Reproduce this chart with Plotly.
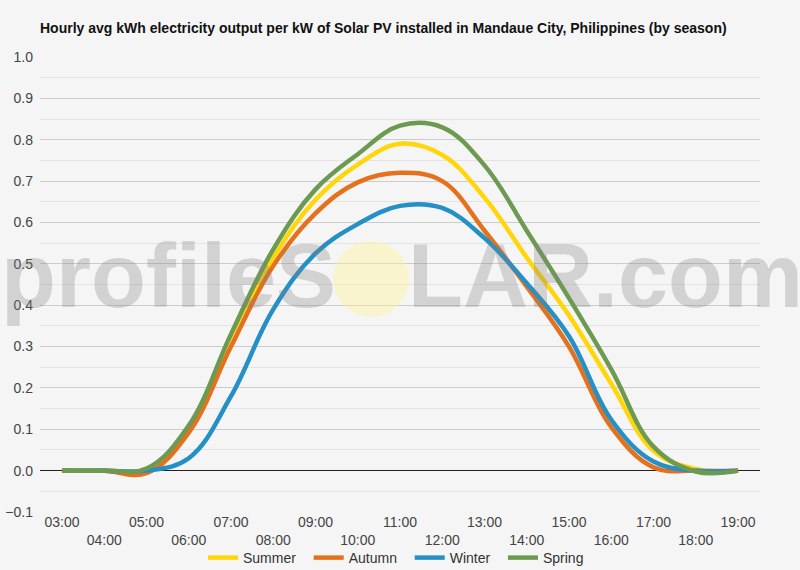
import plotly.graph_objects as go

hours = ["03:00", "04:00", "05:00", "06:00", "07:00", "08:00", "09:00", "10:00", "11:00",
         "12:00", "13:00", "14:00", "15:00", "16:00", "17:00", "18:00", "19:00"]

summer = [0, 0, 0.003, 0.105, 0.325, 0.515, 0.655, 0.74, 0.79, 0.763, 0.66, 0.515, 0.375, 0.21, 0.048, 0.004, 0]
autumn = [0, 0, -0.006, 0.092, 0.30, 0.495, 0.622, 0.697, 0.72, 0.70, 0.58, 0.445, 0.30, 0.105, 0.008, 0, 0]
winter = [0, 0, 0, 0.03, 0.18, 0.39, 0.525, 0.596, 0.64, 0.635, 0.562, 0.453, 0.325, 0.123, 0.022, 0, 0]
spring = [0, 0, 0.005, 0.109, 0.33, 0.535, 0.68, 0.765, 0.834, 0.83, 0.738, 0.58, 0.417, 0.245, 0.058, -0.002, 0]

series = [("Summer", summer, "#FFD60A"), ("Autumn", autumn, "#E5711D"),
          ("Winter", winter, "#2490C5"), ("Spring", spring, "#6D9A51")]

tick_text = [h if i % 2 == 0 else "<br>" + h for i, h in enumerate(hours)]

FONT = "Liberation Sans, Arial, sans-serif"
PAD = "\u00a0\u00a0"  # extra spacing between legend entries

fig = go.Figure()
for name, vals, col in series:
    fig.add_trace(go.Scatter(x=hours, y=vals, name=name + PAD, mode="lines",
                             hovertemplate=name + ": %{y}<extra></extra>",
                             line=dict(color=col, width=4.5, shape="spline", smoothing=1.1)))

W, H = 800, 570
L, R, T, B = 40, 40, 57, 58
pw, ph = W - L - R, H - T - B

def px(x):
    return (x - L) / pw

def py(y):
    return 1 - (y - T) / ph

fig.update_layout(
    width=W, height=H,
    margin=dict(l=L, r=R, t=T, b=B, autoexpand=False),
    paper_bgcolor="#f5f5f5", plot_bgcolor="#f5f5f5",
    font=dict(family=FONT, size=14, color="#444444"),
    title=dict(text="<b>Hourly avg kWh electricity output per kW of Solar PV installed in Mandaue City, Philippines (by season)</b>",
               x=40 / W, xanchor="left", y=1 - 28 / H, yanchor="middle",
               font=dict(family=FONT, size=14, color="#111111")),
    showlegend=True,
    legend=dict(orientation="h", x=0.5, xanchor="center", yref="container",
                y=(H - 558) / H, yanchor="middle",
                font=dict(size=14, color="#333333"), bgcolor="rgba(0,0,0,0)",
                tracegroupgap=0),
    xaxis=dict(type="category", tickvals=hours, ticktext=tick_text, showgrid=False,
               zeroline=False, showline=False, ticks="", automargin=False,
               tickfont=dict(size=14, color="#444444"), range=[-0.52, 16.52]),
    yaxis=dict(range=[-0.1, 1.0], dtick=0.1, tickformat=".1f", showgrid=True,
               gridcolor="#cccccc", gridwidth=1, zeroline=True, zerolinecolor="#222222",
               zerolinewidth=1, ticks="", automargin=False, ticklabelstandoff=6,
               tickfont=dict(size=14, color="#444444"),
               minor=dict(dtick=0.05, showgrid=True, gridcolor="#e4e4e4", gridwidth=1)),
)

# watermark
fig.add_shape(type="circle", xref="paper", yref="paper",
              x0=px(333), x1=px(409), y0=py(317), y1=py(241),
              fillcolor="rgba(255,242,150,0.42)", line=dict(width=0), layer="above")
WM = dict(family=FONT, size=90, color="rgba(128,128,128,0.3)")
fig.add_annotation(text="<b>profileS</b>", xref="paper", yref="paper", x=px(338), y=py(276),
                   xanchor="right", yanchor="middle", showarrow=False, font=WM)
fig.add_annotation(text="<b>LAR.com</b>", xref="paper", yref="paper", x=px(406), y=py(276),
                   xanchor="left", yanchor="middle", showarrow=False, font=WM)

fig.write_html("out.html")
